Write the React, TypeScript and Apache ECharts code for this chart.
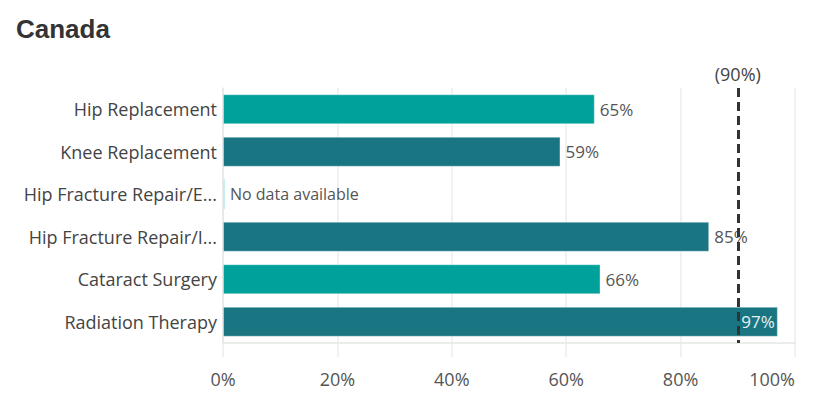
import React, { useEffect, useRef } from "react";
import * as echarts from "echarts";

const categories = [
  "Hip Replacement",
  "Knee Replacement",
  "Hip Fracture Repair/E...",
  "Hip Fracture Repair/I...",
  "Cataract Surgery",
  "Radiation Therapy",
];
const values: (number | null)[] = [65, 59, null, 85, 66, 97];
const barColors = ["#00a19a", "#1a7583", "#00a19a", "#1a7583", "#00a19a", "#1a7583"];
const benchmark = 90;
const xTicks = [0, 20, 40, 60, 80, 100];

const FONT = "'Open Sans', 'Noto Sans', sans-serif";

export default function App() {
  const ref = useRef<HTMLDivElement>(null);
  useEffect(() => {
    if (!ref.current) return;
    const chart = echarts.init(ref.current, undefined, { renderer: "svg" });
    const data = values.map((v, i) => {
      if (v === null) {
        return {
          value: 0,
          itemStyle: { color: "#c9ecec", borderWidth: 0 },
          label: {
            show: true,
            position: "right",
            formatter: "No data available",
            color: "#555",
            fontSize: 16,
            distance: 5,
          },
        };
      }
      const inside = v > 92;
      return {
        value: v,
        itemStyle: { color: barColors[i] },
        label: inside
          ? { show: true, position: "insideRight", color: "#e8f2f2", fontSize: 17, distance: 3 }
          : { show: true, position: "right", color: "#555", fontSize: 17, distance: 5 },
      };
    });
    chart.setOption({
      animation: false,
      textStyle: { fontFamily: FONT },
      title: {
        text: "Canada",
        left: 11,
        top: 11,
        textStyle: {
          fontFamily: "'Liberation Sans', Arial, sans-serif",
          fontSize: 26,
          fontWeight: "bold",
          color: "#333",
        },
      },
      grid: { left: 223, right: 35, top: 88, bottom: 63, containLabel: false },
      xAxis: {
        type: "value",
        min: xTicks[0],
        max: xTicks[xTicks.length - 1],
        interval: 20,
        axisLine: { show: true, lineStyle: { color: "#e6e6e6", width: 1.5 } },
        axisTick: { show: true, length: 14, lineStyle: { color: "#ececec", width: 1.5 } },
        splitLine: { show: true, lineStyle: { color: "#ececec", width: 1.5 } },
        axisLabel: {
          formatter: "{value}%",
          color: "#555",
          fontSize: 18,
          margin: 27,
          fontFamily: FONT,
          alignMaxLabel: "right",
        },
      },
      yAxis: {
        type: "category",
        data: categories,
        inverse: true,
        axisLine: { show: true, lineStyle: { color: "#e6e6e6", width: 1.5 } },
        axisTick: { show: false },
        axisLabel: { color: "#444", fontSize: 18, margin: 6, fontFamily: FONT },
      },
      series: [
        {
          type: "bar",
          data,
          barWidth: 30,
          barMinHeight: 2,
          itemStyle: { borderColor: "rgba(255,255,255,0.35)", borderWidth: 1 },
          label: { fontFamily: FONT, formatter: "{c}%" },
          markLine: {
            silent: true,
            symbol: "none",
            z: 3,
            lineStyle: { color: "#333", width: 3, type: [9, 5] },
            label: {
              show: true,
              position: "start",
              formatter: "(90%)",
              color: "#444",
              fontSize: 18,
              distance: 5,
              fontFamily: FONT,
            },
            data: [{ xAxis: benchmark }],
          },
        },
      ],
    });
    return () => chart.dispose();
  }, []);
  return (
    <div
      ref={ref}
      style={{ position: "absolute", left: 0, top: 0, width: 830, height: 406 }}
    />
  );
}
